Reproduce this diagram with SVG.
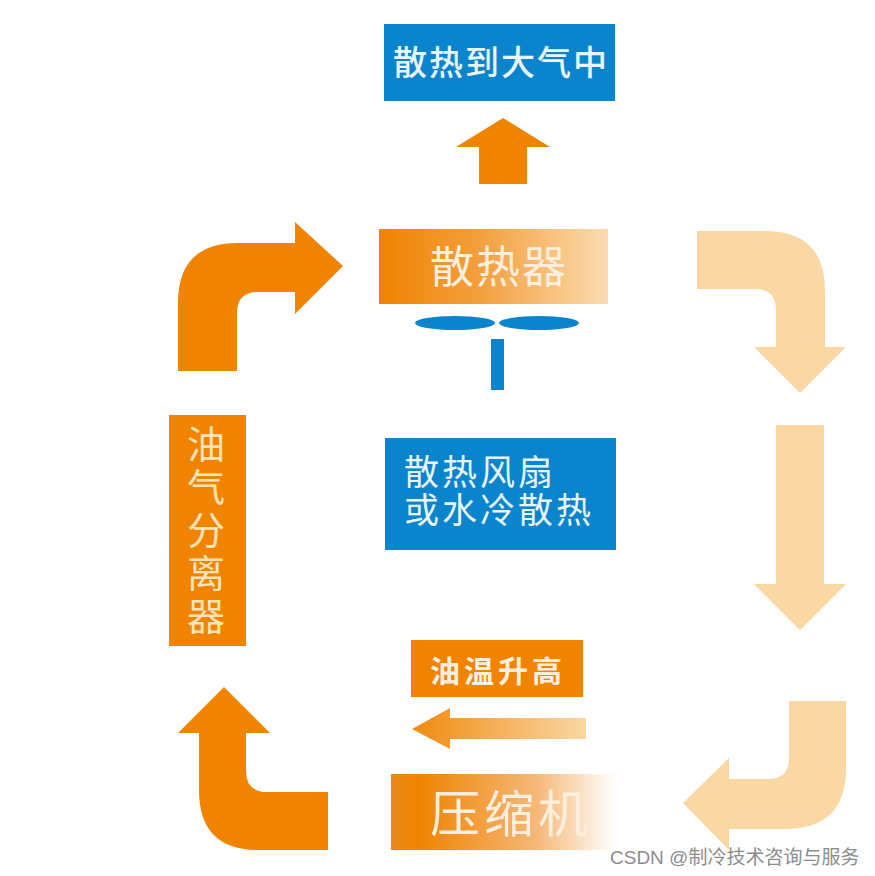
<svg xmlns="http://www.w3.org/2000/svg" width="875" height="876" viewBox="0 0 875 876">
<style>
.s{font-family:"Noto Sans CJK SC","Liberation Sans",sans-serif}
.w{font-family:"Liberation Sans","Noto Sans CJK SC",sans-serif}
.o{fill:#f08300}.l{fill:#fad7a3}.b{fill:#0a84cd}
</style>
<defs>
<linearGradient id="g1"><stop offset="0" stop-color="#f08300"/><stop offset="0.45" stop-color="#f3a040"/><stop offset="1" stop-color="#fbdcb0"/></linearGradient>
<linearGradient id="g2"><stop offset="0" stop-color="#f08a10"/><stop offset="1" stop-color="#fad7a3"/></linearGradient>
<linearGradient id="g3"><stop offset="0" stop-color="#e98a1a"/><stop offset="0.12" stop-color="#f08300"/><stop offset="0.65" stop-color="#f5b878"/><stop offset="1" stop-color="#ffffff"/></linearGradient>
</defs>
<rect width="875" height="876" fill="#fff"/>
<g id="connectors">
<path class="o" d="M479 184V147H456L503 118L550 147H527V184Z"/>
<path class="o" d="M178 371V303Q178 243 238 243H295V222L343 266L295 314V292H258Q237 292 237 313V371Z"/>
<path class="l" d="M697 231H765Q825 231 825 291V347H846L800 393L754 347H776V310Q776 289 755 289H697Z"/>
<path class="l" d="M776 425H824V584H846L800 630L754 584H776Z"/>
<path class="l" d="M789 701H846V768Q846 829 785 829H729V850L683 803L729 758V779H768Q789 779 789 758Z"/>
<path class="o" d="M328 792V850H258Q199 850 199 790V733H178L224 687L270 733H246V771Q246 792 267 792Z"/>
<path fill="url(#g2)" d="M586 718V739H450V749L412 729L450 708V718Z"/>
</g>
<g id="node-atmosphere">
<rect class="b" x="384" y="24" width="231" height="77"/>
<text class="s" x="393" y="75" font-size="34" font-weight="500" letter-spacing="2" fill="#e8f6fb">散热到大气中</text>
</g>
<g id="node-radiator">
<rect x="379" y="229" width="229" height="75" fill="url(#g1)"/>
<text class="s" x="430" y="283" font-size="44" letter-spacing="2" fill="#fdeedd">散热器</text>
</g>
<g id="node-fan">
<ellipse class="b" cx="455" cy="323" rx="40" ry="7"/>
<ellipse class="b" cx="539" cy="323" rx="40" ry="7"/>
<rect class="b" x="491" y="339" width="13" height="51"/>
</g>
<g id="node-cooling">
<rect class="b" x="385" y="438" width="231" height="112"/>
<text class="s" font-size="35" letter-spacing="3" fill="#e8f6fb"><tspan x="404" y="485">散热风扇</tspan><tspan x="404" y="523">或水冷散热</tspan></text>
</g>
<g id="node-separator">
<rect class="o" x="169" y="415" width="77" height="231"/>
<text class="s" x="206" y="425" font-size="38" letter-spacing="5" writing-mode="vertical-rl" fill="#fde3b8">油气分离器</text>
</g>
<g id="node-oiltemp">
<rect class="o" x="411" y="640" width="172" height="57"/>
<text class="s" x="430" y="682" font-size="30" letter-spacing="4" font-weight="700" fill="#fdeedd">油温升高</text>
</g>
<g id="node-compressor">
<rect x="391" y="774" width="224" height="76" fill="url(#g3)"/>
<text class="s" x="430" y="832" font-size="50" letter-spacing="4" fill="#fdeedd">压缩机</text>
</g>
<text id="watermark" class="w" x="610" y="864" font-size="19" fill="#8c8c8c">CSDN @制冷技术咨询与服务</text>
</svg>
